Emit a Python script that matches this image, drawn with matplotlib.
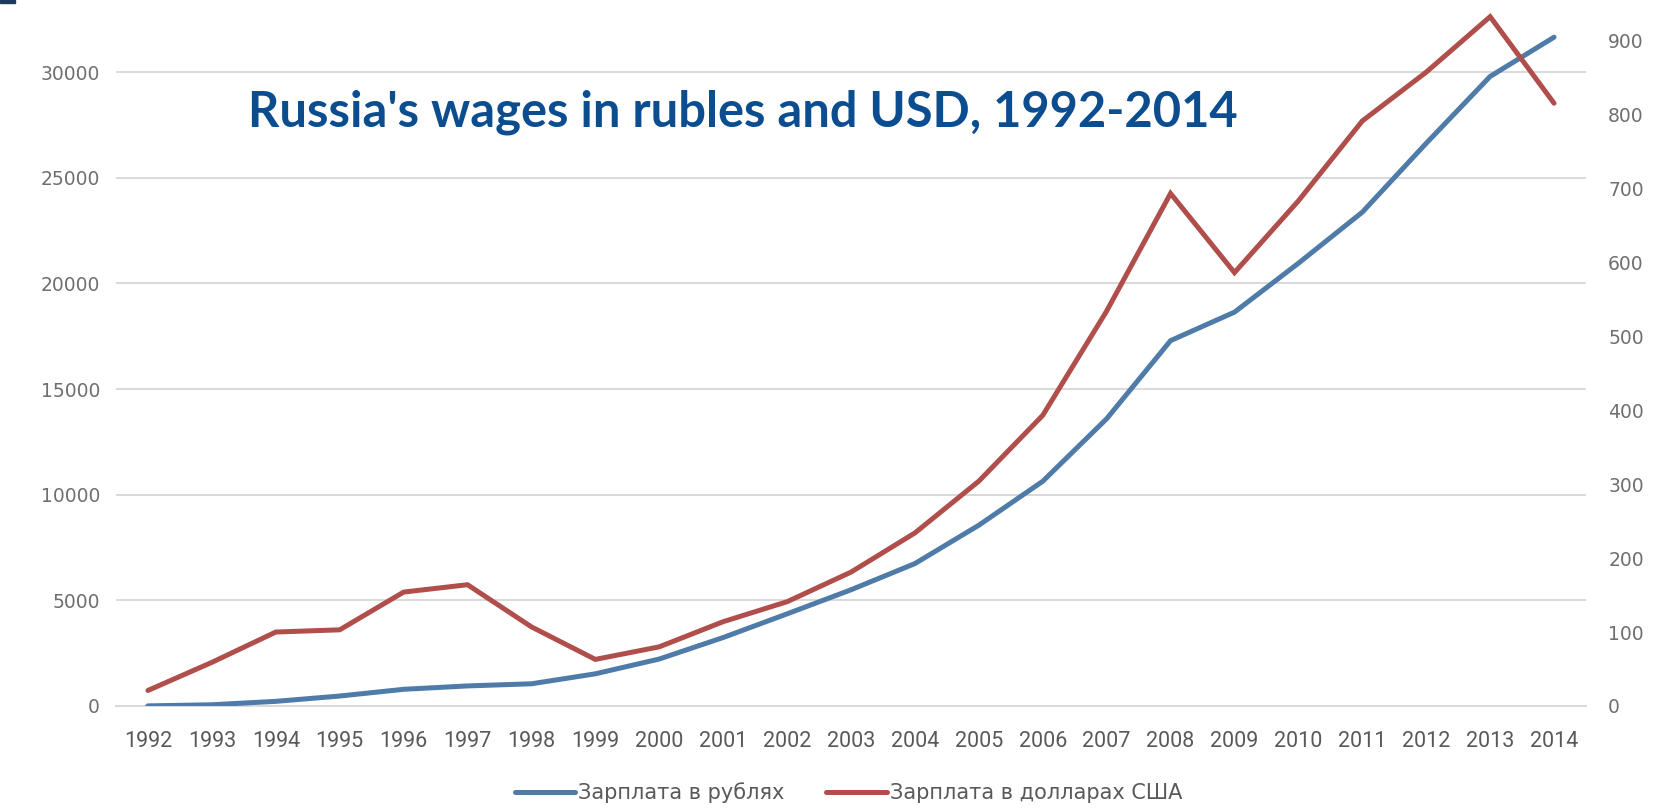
import matplotlib
matplotlib.use("Agg")
import matplotlib.pyplot as plt
from matplotlib.patches import Rectangle

# --- Data ---
years = list(range(1992, 2015))
# average monthly wage, rubles (left axis)
wage_rub = [6, 59, 220, 472, 790, 950, 1051, 1523, 2223, 3240, 4360, 5499,
            6740, 8555, 10634, 13593, 17290, 18638, 20952, 23369, 26629,
            29792, 31650]
# average monthly wage, US dollars (right axis)
wage_usd = [21, 59, 100, 103, 154, 164, 107, 63, 80, 114, 141, 181,
            234, 304, 393, 534, 693, 586, 683, 791, 857, 932, 815]

# 35000 / 1000 lie above the visible area of the original
rub_ticks = [0, 5000, 10000, 15000, 20000, 25000, 30000, 35000]
usd_ticks = [0, 100, 200, 300, 400, 500, 600, 700, 800, 900]

title = "Russia's wages in rubles and USD, 1992-2014"
label_rub = "Зарплата в рублях"
label_usd = "Зарплата в долларах США"

# --- Style ---
BLUE = "#4F7BA8"
RED = "#B04E4B"
GRID = "#D9D9D9"
TICK_GRAY = "#6F6F6F"
TEXT_GRAY = "#595959"
TITLE_BLUE = "#0B4D8F"

fig = plt.figure(figsize=(16.63, 8.08), dpi=100)
# axes top sits above the canvas, so the 35000 gridline is cut off like the original
ax = fig.add_axes([0.06975, 0.12624, 0.88395, 0.91535])
ax2 = ax.twinx()

line_rub, = ax.plot(years, wage_rub, color=BLUE, lw=3.6, solid_capstyle="round",
                    solid_joinstyle="miter", label=label_rub, zorder=3)
line_usd, = ax2.plot(years, wage_usd, color=RED, lw=3.6, solid_capstyle="round",
                     solid_joinstyle="miter", label=label_usd, zorder=3)

# left axis
ax.set_xlim(1991.5, 2014.5)
ax.set_ylim(0, 35000)
ax.set_yticks(rub_ticks)
ax.set_yticklabels([str(t) if t < 35000 else "" for t in rub_ticks])
ax.set_xticks(years)
ax.grid(axis="y", color=GRID, lw=1.4)
ax.set_axisbelow(True)
for side in ["top", "left", "right"]:
    ax.spines[side].set_visible(False)
ax.spines["bottom"].set_color(GRID)
ax.spines["bottom"].set_linewidth(1.4)
ax.tick_params(axis="y", length=0, pad=11.5, labelsize=13.5, labelcolor=TICK_GRAY)
ax.tick_params(axis="x", length=0, pad=18)
for lab in ax.get_xticklabels():
    lab.set_fontfamily("Roboto")
    lab.set_fontsize(15.5)
    lab.set_color(TEXT_GRAY)

# right axis
ax2.set_ylim(0, 1000)
ax2.set_yticks(usd_ticks)
for side in ax2.spines:
    ax2.spines[side].set_visible(False)
ax2.tick_params(axis="y", length=0, pad=16, labelsize=13.5, labelcolor=TICK_GRAY)

# title
fig.text(248 / 1663, 1 - 126.7 / 808, title, fontfamily="Lato", fontweight="bold",
         fontsize=35.2, color=TITLE_BLUE, ha="left", va="baseline")

# legend under the plot
fig.legend(handles=[line_rub, line_usd], loc="center", ncol=2,
           bbox_to_anchor=(0.5102, 0.0186), frameon=False,
           prop={"family": "DejaVu Sans", "size": 15}, labelcolor=TEXT_GRAY,
           handlelength=2.9, handletextpad=0.15, columnspacing=2.0)

# small dark mark in the top-left corner
fig.patches.append(Rectangle((0, 1 - 3 / 808), 15 / 1663, 3 / 808,
                             transform=fig.transFigure, color="#1F3A5F"))

fig.savefig("out.png", dpi=100)
